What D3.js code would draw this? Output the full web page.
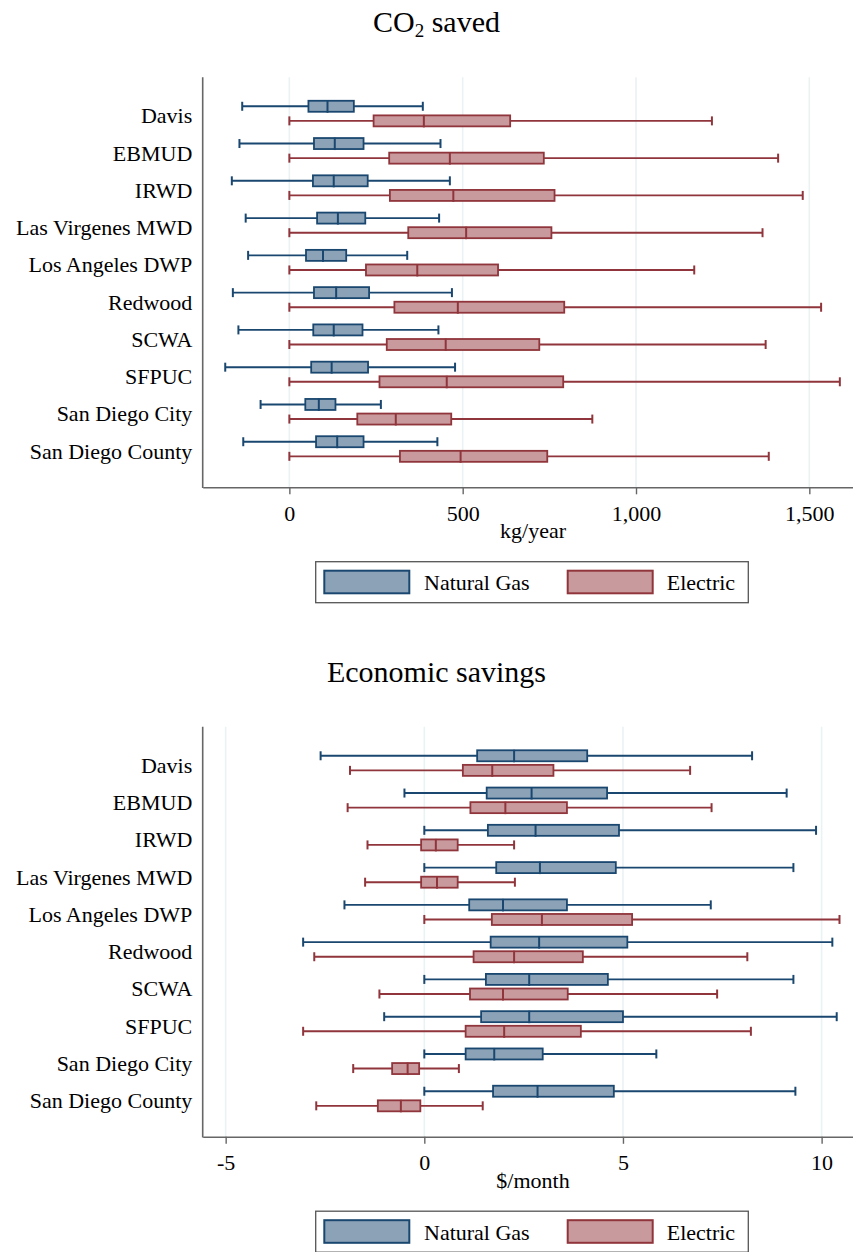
<!DOCTYPE html>
<html><head><meta charset="utf-8">
<script src="https://cdn.jsdelivr.net/npm/d3@7"></script>
<style>
body{margin:0;background:#fff}
svg{display:block;font-family:"Liberation Serif","Times New Roman",serif}
</style>
</head><body>
<svg id="c" width="853" height="1252"></svg>
<script>
// ---- data ----
const categories = ["Davis","EBMUD","IRWD","Las Virgenes MWD","Los Angeles DWP","Redwood","SCWA","SFPUC","San Diego City","San Diego County"];
const seriesNames = ["Natural Gas","Electric"];
// [lower whisker, q1, median, q3, upper whisker]
const co2Gas = [
  [-136,55,110,186,385],[-144,71,131,214,436],[-166,68,128,226,463],[-126,80,140,219,432],[-119,48,97,164,340],
  [-163,71,135,230,469],[-147,69,128,211,430],[-185,63,122,227,478],[-83,46,85,133,264],[-133,77,138,214,427]];
const co2Elec = [
  [0,243,388,637,1219],[0,288,463,734,1410],[0,290,473,765,1481],[0,343,510,756,1365],[0,221,369,602,1168],
  [0,303,486,793,1534],[0,281,451,721,1374],[0,260,454,790,1588],[0,196,307,467,874],[0,319,494,744,1383]];
const econGas = [
  [-2.61,1.33,2.26,4.10,8.25],[-0.50,1.57,2.70,4.60,9.12],[0,1.60,2.80,4.90,9.86],[0,1.81,2.91,4.82,9.29],[-2.01,1.13,1.98,3.59,7.21],
  [-3.05,1.67,2.89,5.11,10.27],[0,1.55,2.64,4.62,9.29],[-1.01,1.43,2.64,5.00,10.38],[0,1.04,1.76,2.98,5.84],[0,1.73,2.85,4.77,9.34]];
const econElec = [
  [-1.87,0.97,1.71,3.25,6.69],[-1.93,1.16,2.04,3.59,7.23],[-1.43,-0.08,0.29,0.84,2.26],[-1.49,-0.08,0.32,0.84,2.28],[0,1.70,2.96,5.23,10.45],
  [-2.77,1.24,2.26,3.99,8.13],[-1.13,1.15,1.98,3.61,7.37],[-3.05,1.04,2.01,3.94,8.22],[-1.79,-0.81,-0.42,-0.13,0.87],[-2.72,-1.17,-0.59,-0.10,1.47]];
const co2Ticks = [0,500,1000,1500];
const econTicks = [-5,0,5,10];
const co2Domain = [-250,1626];
const econDomain = [-5.578,10.79];

const strokeCol = ["#1a476f","#90353b"];
const fillCol = ["#8ca3b7","#c89a9d"];
const axisCol = "#666";
const gridCol = "#eaf2f3";

const svg = d3.select("#c");

function drawPanel(dy, titleParts, xDomain, ticks, fmt, xTitle, series){
  const top = 77.3 + dy, bottom = 487.3 + dy, left = 202.7, right = 853;
  const g = svg.append("g");
  const x = d3.scaleLinear().domain(xDomain).range([left,right]);
  const y = d3.scaleBand().domain(categories).range([top-1,bottom-1]).paddingOuter(0.5).paddingInner(0);

  // title
  const t = g.append("text").attr("x",436.5).attr("y",32+dy).attr("text-anchor","middle")
    .attr("font-size",30).attr("fill","#000");
  titleParts.forEach(p=>{
    const ts = t.append("tspan").text(p.t);
    if(p.sub){ ts.attr("font-size",19).attr("dy",5); }
    else if(p.after){ ts.attr("dy",-5); }
  });

  // gridlines
  g.append("g").selectAll("line").data(ticks).join("line")
    .attr("x1",d=>x(d)).attr("x2",d=>x(d)).attr("y1",top).attr("y2",bottom)
    .attr("stroke",gridCol).attr("stroke-width",1.6);

  // x axis
  const ax = g.append("g").attr("transform",`translate(0,${bottom})`)
    .call(d3.axisBottom(x).tickValues(ticks).tickFormat(fmt).tickSize(7).tickSizeOuter(0).tickPadding(11));
  ax.select(".domain").attr("stroke",axisCol).attr("stroke-width",1.6);
  ax.selectAll(".tick line").attr("stroke",axisCol).attr("stroke-width",1.4);
  ax.selectAll(".tick text").attr("font-size",22).attr("fill","#000")
    .attr("font-family","'Liberation Serif','Times New Roman',serif");

  // left axis line
  g.append("line").attr("x1",left).attr("x2",left).attr("y1",top).attr("y2",bottom+0.8)
    .attr("stroke",axisCol).attr("stroke-width",1.6);

  // category labels
  g.append("g").selectAll("text").data(categories).join("text")
    .attr("x",192.3).attr("y",d=>y(d)+y.bandwidth()/2+9.7).attr("text-anchor","end")
    .attr("font-size",22).attr("fill","#000").text(d=>d);

  // axis title
  g.append("text").attr("x",533).attr("y",538+dy).attr("text-anchor","middle")
    .attr("font-size",22).attr("fill","#000").text(xTitle);

  // boxes
  const offs = [-7.3, 7.3];
  series.forEach((data,s)=>{
    const sg = g.append("g");
    const rows = sg.selectAll("g").data(data).join("g")
      .attr("transform",(d,i)=>`translate(0,${y(categories[i])+y.bandwidth()/2+offs[s]})`);
    rows.append("line").attr("x1",d=>x(d[0])).attr("x2",d=>x(d[4])).attr("y1",0).attr("y2",0)
      .attr("stroke",strokeCol[s]).attr("stroke-width",1.9);
    rows.append("line").attr("x1",d=>x(d[0])).attr("x2",d=>x(d[0])).attr("y1",-4.5).attr("y2",4.5)
      .attr("stroke",strokeCol[s]).attr("stroke-width",2);
    rows.append("line").attr("x1",d=>x(d[4])).attr("x2",d=>x(d[4])).attr("y1",-4.5).attr("y2",4.5)
      .attr("stroke",strokeCol[s]).attr("stroke-width",2);
    rows.append("rect").attr("x",d=>x(d[1])).attr("width",d=>x(d[3])-x(d[1]))
      .attr("y",-5.5).attr("height",11)
      .attr("fill",fillCol[s]).attr("stroke",strokeCol[s]).attr("stroke-width",1.8);
    rows.append("line").attr("x1",d=>x(d[2])).attr("x2",d=>x(d[2])).attr("y1",-6).attr("y2",6.5)
      .attr("stroke",strokeCol[s]).attr("stroke-width",2);
  });

  // legend
  const lg = g.append("g");
  lg.append("rect").attr("x",315.7).attr("y",561.7+dy).attr("width",432.6).attr("height",41)
    .attr("fill","#fff").attr("stroke","#555").attr("stroke-width",1.3);
  const sw = [[324.3,424],[567.7,666.7]];
  seriesNames.forEach((n,s)=>{
    lg.append("rect").attr("x",sw[s][0]).attr("y",570.7+dy).attr("width",85).attr("height",22.6)
      .attr("fill",fillCol[s]).attr("stroke",strokeCol[s]).attr("stroke-width",2);
    lg.append("text").attr("x",sw[s][1]).attr("y",590+dy).attr("font-size",22).attr("fill","#000").text(n);
  });
}

drawPanel(0, [{t:"CO"},{t:"2",sub:true},{t:" saved",after:true}], co2Domain, co2Ticks, d3.format(","), "kg/year", [co2Gas, co2Elec]);
drawPanel(649.5, [{t:"Economic savings"}], econDomain, econTicks, d=>String(d), "$/month", [econGas, econElec]);
</script>
</body></html>
